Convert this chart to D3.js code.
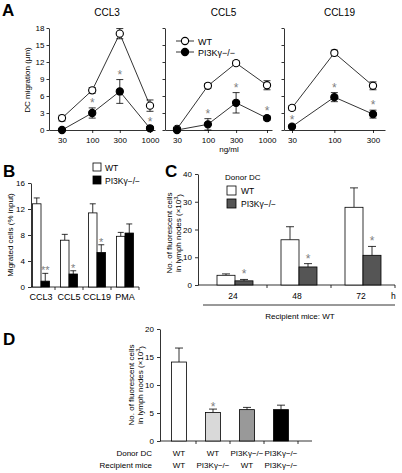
<!DOCTYPE html>
<html><head><meta charset="utf-8">
<script src="https://cdn.jsdelivr.net/npm/d3@7"></script>
<style>
body{margin:0;background:#fff;}
svg{display:block;font-family:"Liberation Sans",Arial,sans-serif;}
</style></head><body>
<script>
// ---------- DATA ----------
const dosesA = [30, 100, 300, 1000];
const dosesCCL19 = [30, 100, 300];
const ccl3WT = [2.1, 7.0, 17.0, 4.3], ccl3WTerr = [0.5, 0.5, 0.9, 1.0];
const ccl3KO = [0.0, 3.0, 6.8, 0.3], ccl3KOerr = [0, 0.9, 2.1, 0.3];
const ccl5WT = [0.2, 7.8, 11.8, 7.9], ccl5WTerr = [0.2, 0.4, 0.4, 0.8];
const ccl5KO = [0.0, 1.0, 4.8, 2.1], ccl5KOerr = [0, 1.0, 1.8, 0.4];
const ccl19WT = [3.9, 13.6, 7.8], ccl19WTerr = [0.4, 0.5, 0.7];
const ccl19KO = [0.6, 5.8, 2.8], ccl19KOerr = [0.3, 0.8, 0.7];
const starsA = {CCL3: [false, true, true, true], CCL5: [false, true, true, true], CCL19: [true, true, true]};
const yTicksA = [0, 3, 6, 9, 12, 15, 18];

const catsB = ["CCL3", "CCL5", "CCL19", "PMA"];
const wtB = [12.8, 7.2, 11.4, 7.8], wtBerr = [0.9, 0.9, 1.4, 0.6];
const koB = [0.9, 2.0, 5.3, 8.3], koBerr = [1.2, 0.5, 1.2, 1.4];
const starsB = ["**", "*", "*", ""];
const yTicksB = [0, 4, 8, 12, 16];

const timesC = ["24", "48", "72"];
const wtC = [3.5, 16.3, 28.0], wtCerr = [0.5, 4.7, 7.0];
const koC = [1.5, 6.5, 10.7], koCerr = [0.5, 1.2, 3.2];
const starsC = ["*", "*", "*"];
const yTicksC = [0, 10, 20, 30, 40];

const donorD = ["WT", "WT", "PI3Kγ−/−", "PI3Kγ−/−"];
const recipD = ["WT", "PI3Kγ−/−", "WT", "PI3Kγ−/−"];
const valD = [14.1, 5.1, 5.6, 5.6], errD = [2.5, 0.6, 0.4, 0.8];
const starsD = ["", "*", "", ""];
const yTicksD = [0, 5, 10, 15, 20];

const KO = "PI3Kγ−/−";
// ---------- DRAW ----------
const W = 402, H = 473;
const svg = d3.select("body").append("svg").attr("width", W).attr("height", H);
const FS = 8;
const starCol = "#808080";

function letter(t, x, y) {
  svg.append("text").attr("x", x).attr("y", y).attr("font-size", 17).attr("font-weight", "bold").text(t);
}
function txt(g, t, x, y, opts = {}) {
  return g.append("text").attr("x", x).attr("y", y).attr("font-size", opts.fs || FS)
    .attr("text-anchor", opts.anchor || "start").attr("fill", opts.fill || "#000").text(t);
}
function yLabel(lines, cx, cy, fs) {
  const g = svg.append("g").attr("transform", `translate(${cx},${cy}) rotate(-90)`);
  lines.forEach((l, i) => {
    g.append("text").attr("x", 0).attr("y", (i - (lines.length - 1) / 2) * (fs + 1.5)).attr("text-anchor", "middle")
      .attr("font-size", fs).attr("dominant-baseline", "central").html(l);
  });
}
function styleAxis(g) {
  g.selectAll("path,line").attr("stroke", "#000").attr("stroke-width", 0.8);
  g.selectAll("text").attr("font-size", FS).attr("font-family", "Liberation Sans, Arial, sans-serif");
}

// ----- Panel A -----
letter("A", 2, 16);
const yA = d3.scaleLinear().domain([0, 18]).range([130, 28]);
const panelsA = [
  {title: "CCL3", ax: 49, end: 155, p0: 62, p1: 150, doses: dosesA, wt: ccl3WT, wte: ccl3WTerr, ko: ccl3KO, koe: ccl3KOerr, labels: true},
  {title: "CCL5", ax: 165, end: 272, p0: 177, p1: 267, doses: dosesA, wt: ccl5WT, wte: ccl5WTerr, ko: ccl5KO, koe: ccl5KOerr, labels: false},
  {title: "CCL19", ax: 284, end: 385, p0: 292, p1: 373, doses: dosesCCL19, wt: ccl19WT, wte: ccl19WTerr, ko: ccl19KO, koe: ccl19KOerr, labels: false}
];
panelsA.forEach(p => {
  const x = d3.scaleLog().domain([p.doses[0], p.doses[p.doses.length - 1]]).range([p.p0, p.p1]);
  x.domain([x.invert(p.ax), x.invert(p.end)]).range([p.ax, p.end]);
  const g = svg.append("g");
  const gy = g.append("g").attr("transform", `translate(${p.ax},0)`)
    .call(d3.axisLeft(yA).tickValues(yTicksA).tickSize(2.5).tickPadding(2).tickSizeOuter(0).tickFormat(p.labels ? d3.format("d") : ""));
  styleAxis(gy);
  const gx = g.append("g").attr("transform", `translate(0,${yA(0)})`)
    .call(d3.axisBottom(x).tickValues(p.doses).tickSize(3).tickSizeOuter(0).tickFormat(d3.format("d")));
  styleAxis(gx);
  gx.selectAll("text").attr("dy", "0.9em");
  txt(g, p.title, (p.ax + p.end) / 2 + 5, 16, {fs: 10, anchor: "middle"});
  const line = d3.line().x((d, i) => x(p.doses[i])).y(d => yA(d));
  [[p.wt, p.wte, "#fff"], [p.ko, p.koe, "#000"]].forEach(([vals, errs, fill]) => {
    g.append("path").attr("d", line(vals)).attr("fill", "none").attr("stroke", "#000").attr("stroke-width", 0.8);
    vals.forEach((v, i) => {
      if (errs[i] > 0.25) {
        const cx = x(p.doses[i]);
        g.append("line").attr("x1", cx).attr("x2", cx).attr("y1", yA(v - errs[i])).attr("y2", yA(v + errs[i])).attr("stroke", "#000").attr("stroke-width", 0.8);
        [v - errs[i], v + errs[i]].forEach(e => g.append("line").attr("x1", cx - 3.5).attr("x2", cx + 3.5).attr("y1", yA(e)).attr("y2", yA(e)).attr("stroke", "#000").attr("stroke-width", 0.8));
      }
    });
  });
  [[p.wt, "#fff"], [p.ko, "#000"]].forEach(([vals, fill]) => {
    vals.forEach((v, i) => {
      g.append("circle").attr("cx", x(p.doses[i])).attr("cy", yA(v)).attr("r", 3.6).attr("fill", fill).attr("stroke", "#000").attr("stroke-width", 1.1);
    });
  });
  starsA[p.title].forEach((s, i) => {
    if (s) txt(g, "*", x(p.doses[i]), yA(p.ko[i] + p.koe[i]) - 1, {fs: 12, anchor: "middle", fill: starCol});
  });
});
yLabel(["DC migration (μm)"], 27, 80, 8);
txt(svg, "ng/ml", 229, 152, {anchor: "middle"});
// legend A
[["WT", "#fff", 41], [KO, "#000", 52]].forEach(([t, f, yy]) => {
  svg.append("line").attr("x1", 176).attr("x2", 194).attr("y1", yy).attr("y2", yy).attr("stroke", "#000").attr("stroke-width", 0.8);
  svg.append("circle").attr("cx", 185).attr("cy", yy).attr("r", 3.6).attr("fill", f).attr("stroke", "#000").attr("stroke-width", 1.1);
  txt(svg, t, 198, yy + 3.5, {fs: 9});
});

// ----- Panel B -----
letter("B", 3, 177);
const yB = d3.scaleLinear().domain([0, 16]).range([287, 183]);
const xB = d3.scaleBand().domain(catsB).range([27, 139]);
const gB = svg.append("g");
const gBy = gB.append("g").attr("transform", "translate(31,0)").call(d3.axisLeft(yB).tickValues(yTicksB).tickSize(3).tickSizeOuter(0));
styleAxis(gBy);
gB.append("line").attr("x1", 31).attr("x2", 139).attr("y1", yB(0)).attr("y2", yB(0)).attr("stroke", "#000").attr("stroke-width", 0.8);
catsB.forEach((c, i) => {
  const bx = xB(c) + xB.bandwidth();
  gB.append("line").attr("x1", bx).attr("x2", bx).attr("y1", yB(0)).attr("y2", yB(0) + 3).attr("stroke", "#000").attr("stroke-width", 0.8);
  txt(gB, c, xB(c) + xB.bandwidth() / 2, 300, {fs: 9, anchor: "middle"});
});
const bwB = 8.5;
catsB.forEach((c, i) => {
  const cx = xB(c) + xB.bandwidth() / 2;
  [[wtB[i], wtBerr[i], "#fff", cx - bwB], [koB[i], koBerr[i], "#000", cx]].forEach(([v, e, f, x0]) => {
    const mx = x0 + bwB / 2;
    gB.append("line").attr("x1", mx).attr("x2", mx).attr("y1", yB(v)).attr("y2", yB(v + e)).attr("stroke", "#000").attr("stroke-width", 0.8);
    gB.append("line").attr("x1", mx - 3).attr("x2", mx + 3).attr("y1", yB(v + e)).attr("y2", yB(v + e)).attr("stroke", "#000").attr("stroke-width", 0.8);
    gB.append("rect").attr("x", x0).attr("y", yB(v)).attr("width", bwB).attr("height", yB(0) - yB(v)).attr("fill", f).attr("stroke", "#000").attr("stroke-width", 0.8);
  });
  if (starsB[i]) txt(gB, starsB[i], cx + bwB / 2, yB(koB[i] + koBerr[i]) + 1, {fs: 11, anchor: "middle", fill: starCol});
});
yLabel(["Migrated cells (% input)"], 10, 235, 8);
[["WT", "#fff", 163], [KO, "#000", 176]].forEach(([t, f, yy]) => {
  svg.append("rect").attr("x", 93).attr("y", yy).attr("width", 8).attr("height", 8).attr("fill", f).attr("stroke", "#000").attr("stroke-width", 0.8);
  txt(svg, t, 105, yy + 7.5, {fs: 8.5});
});

// ----- Panel C -----
letter("C", 165, 177);
const yC = d3.scaleLinear().domain([0, 40]).range([285, 174]);
const xC = d3.scaleBand().domain(timesC).range([203, 395]);
const gC = svg.append("g");
const gCy = gC.append("g").attr("transform", "translate(198,0)").call(d3.axisLeft(yC).tickValues(yTicksC).tickSize(3).tickSizeOuter(0));
styleAxis(gCy);
gC.append("line").attr("x1", 198).attr("x2", 395).attr("y1", yC(0)).attr("y2", yC(0)).attr("stroke", "#000").attr("stroke-width", 0.8);
const bwC = 18;
timesC.forEach((t, i) => {
  const bx = xC(t) + xC.bandwidth();
  gC.append("line").attr("x1", bx).attr("x2", bx).attr("y1", yC(0)).attr("y2", yC(0) + 3).attr("stroke", "#000").attr("stroke-width", 0.8);
  const cx = xC(t) + xC.bandwidth() / 2;
  txt(gC, t, cx - 2, 299, {fs: 8.5, anchor: "middle"});
  [[wtC[i], wtCerr[i], "#fff", cx - bwC], [koC[i], koCerr[i], "#555", cx]].forEach(([v, e, f, x0]) => {
    const mx = x0 + bwC / 2;
    gC.append("line").attr("x1", mx).attr("x2", mx).attr("y1", yC(v)).attr("y2", yC(v + e)).attr("stroke", "#000").attr("stroke-width", 0.8);
    gC.append("line").attr("x1", mx - 4).attr("x2", mx + 4).attr("y1", yC(v + e)).attr("y2", yC(v + e)).attr("stroke", "#000").attr("stroke-width", 0.8);
    gC.append("rect").attr("x", x0).attr("y", yC(v)).attr("width", bwC).attr("height", yC(0) - yC(v)).attr("fill", f).attr("stroke", "#000").attr("stroke-width", 0.8);
  });
  txt(gC, starsC[i], cx + bwC / 2, yC(koC[i] + koCerr[i]) - 1, {fs: 12, anchor: "middle", fill: starCol});
});
txt(gC, "h", 391, 299, {fs: 8.5});
gC.append("line").attr("x1", 203).attr("x2", 395).attr("y1", 305).attr("y2", 305).attr("stroke", "#000").attr("stroke-width", 0.8);
txt(gC, "Recipient mice: WT", 300, 319, {fs: 8, anchor: "middle"});
yLabel(["No. of fluorescent cells", "in lymph nodes (×10<tspan dy='-3' font-size='5.5'>3</tspan><tspan dy='3'>)</tspan>"], 174, 233, 8);
txt(svg, "Donor DC", 225, 180, {fs: 8});
[["WT", "#fff", 186], [KO, "#555", 199]].forEach(([t, f, yy]) => {
  svg.append("rect").attr("x", 227).attr("y", yy).attr("width", 9).attr("height", 9).attr("fill", f).attr("stroke", "#000").attr("stroke-width", 0.8);
  txt(svg, t, 241, yy + 8, {fs: 8.5});
});

// ----- Panel D -----
letter("D", 3, 345);
const yD = d3.scaleLinear().domain([0, 20]).range([441, 329]);
const idxD = d3.range(valD.length);
const xD = d3.scaleBand().domain(idxD).range([162, 298]);
const gD = svg.append("g");
const gDy = gD.append("g").attr("transform", "translate(160,0)").call(d3.axisLeft(yD).tickValues(yTicksD).tickSize(3).tickSizeOuter(0));
styleAxis(gDy);
gD.append("line").attr("x1", 160).attr("x2", 312).attr("y1", yD(0)).attr("y2", yD(0)).attr("stroke", "#000").attr("stroke-width", 0.8);
const fillsD = ["#fff", "#d9d9d9", "#999", "#000"];
const bwD = 15;
idxD.forEach(i => {
  const cx = xD(i) + xD.bandwidth() / 2;
  const bx = xD(i) + xD.bandwidth();
  gD.append("line").attr("x1", bx).attr("x2", bx).attr("y1", yD(0)).attr("y2", yD(0) + 3).attr("stroke", "#000").attr("stroke-width", 0.8);
  const v = valD[i], e = errD[i];
  gD.append("line").attr("x1", cx).attr("x2", cx).attr("y1", yD(v)).attr("y2", yD(v + e)).attr("stroke", "#000").attr("stroke-width", 0.8);
  gD.append("line").attr("x1", cx - 4).attr("x2", cx + 4).attr("y1", yD(v + e)).attr("y2", yD(v + e)).attr("stroke", "#000").attr("stroke-width", 0.8);
  gD.append("rect").attr("x", cx - bwD / 2).attr("y", yD(v)).attr("width", bwD).attr("height", yD(0) - yD(v)).attr("fill", fillsD[i]).attr("stroke", "#000").attr("stroke-width", 0.8);
  if (starsD[i]) txt(gD, starsD[i], cx, yD(v + e) + 2, {fs: 12, anchor: "middle", fill: starCol});
  txt(gD, donorD[i], cx, 456, {fs: 8, anchor: "middle"});
  txt(gD, recipD[i], cx, 468, {fs: 8, anchor: "middle"});
});
txt(gD, "Donor DC", 152, 456, {fs: 8, anchor: "end"});
txt(gD, "Recipient mice", 152, 468, {fs: 8, anchor: "end"});
yLabel(["No. of fluorescent cells", "in lymph nodes (×10<tspan dy='-3' font-size='5.5'>3</tspan><tspan dy='3'>)</tspan>"], 136, 385, 8);
</script>
</body></html>
